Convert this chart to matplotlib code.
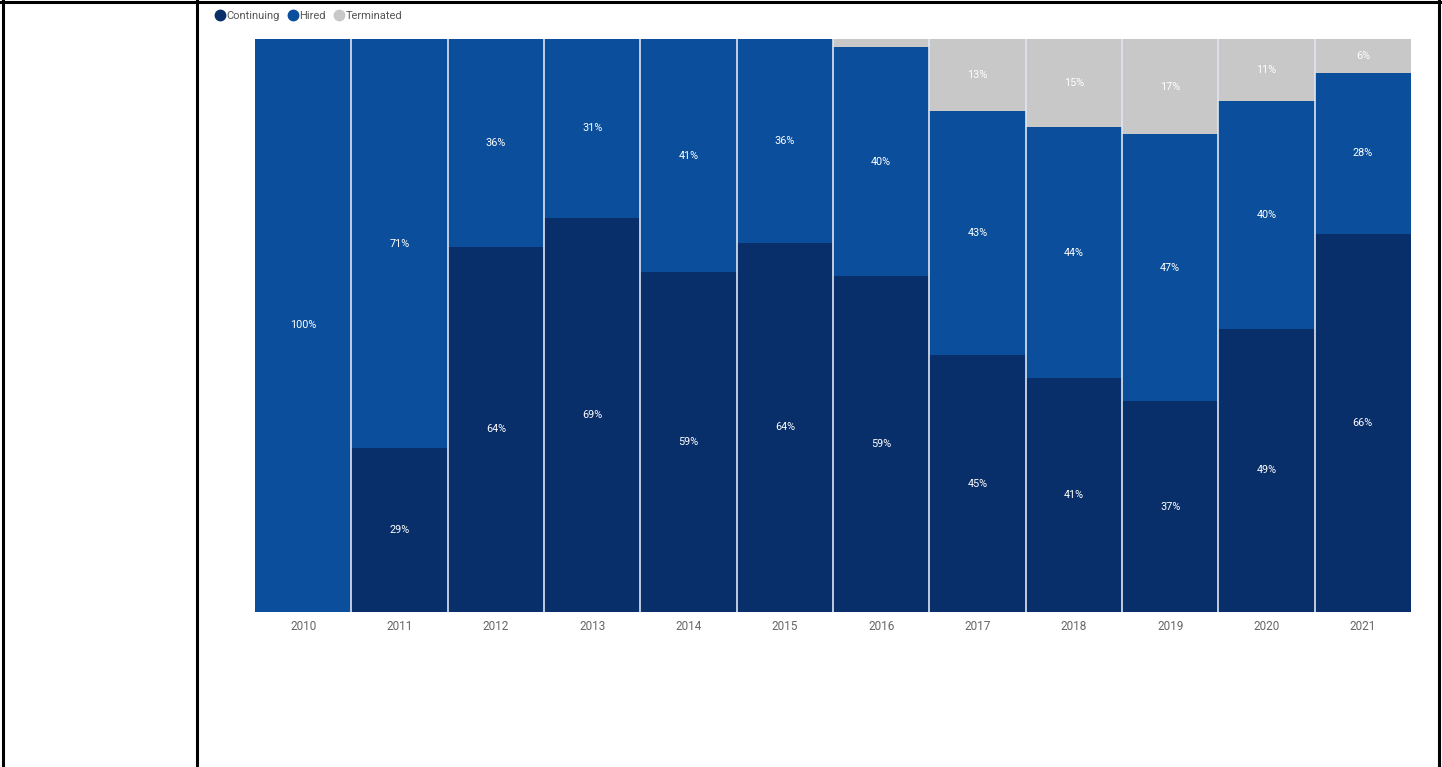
import matplotlib
matplotlib.use('Agg')
import matplotlib.pyplot as plt
from matplotlib.lines import Line2D
import numpy as np

plt.rcParams['font.family'] = ['Roboto', 'DejaVu Sans']

years = ['2010', '2011', '2012', '2013', '2014', '2015',
         '2016', '2017', '2018', '2019', '2020', '2021']
# share of staff per year, percent
continuing = [0.0, 28.6, 63.7, 68.8, 59.3, 64.4, 58.6, 44.8, 40.8, 36.8, 49.4, 66.0]
hired = [100.0, 71.4, 36.3, 31.2, 40.7, 35.6, 40.0, 42.6, 43.8, 46.6, 39.8, 28.1]
terminated = [0.0, 0.0, 0.0, 0.0, 0.0, 0.0, 1.4, 12.6, 15.4, 16.6, 10.8, 5.9]

names = ['Continuing', 'Hired', 'Terminated']
colors = ['#092f6a', '#0b4f9c', '#c8c8c8']

W, H = 1442, 767
fig = plt.figure(figsize=(W / 100, H / 100), dpi=100)
ax = fig.add_axes([255 / W, 1 - 612 / H, (1411 - 255) / W, (612 - 39) / H])

x = np.arange(len(years))
bottom = np.zeros(len(years))
for vals, col in zip([continuing, hired, terminated], colors):
    vals = np.array(vals)
    ax.bar(x, vals, width=1.0, bottom=bottom, color=col, linewidth=0)
    for xi, b, v in zip(x, bottom, vals):
        if v >= 3:
            ax.text(xi, b + v / 2, f'{v:.0f}%', ha='center', va='center',
                    color='white', fontsize=7.8)
    bottom += vals

# thin light separators between the columns
for xb in x[:-1] + 0.5:
    ax.axvline(xb, color='#dfe6f0', linewidth=1.2)

ax.set_xlim(-0.5, len(years) - 0.5)
ax.set_ylim(0, 100)
ax.set_xticks(x)
ax.set_xticklabels(years, fontsize=8.5, color='#666666')
ax.tick_params(axis='x', length=0, pad=5.5)
ax.set_yticks([])
for s in ax.spines.values():
    s.set_visible(False)

handles = [Line2D([], [], marker='o', linestyle='', markersize=7.5,
                  markerfacecolor=c, markeredgecolor=c) for c in colors]
fig.legend(handles, names, loc='upper left', bbox_to_anchor=(214 / W, 1 - 11 / H),
           ncol=3, frameon=False, fontsize=8, handletextpad=0.1,
           columnspacing=0.7, handlelength=1.0, borderpad=0, borderaxespad=0,
           labelcolor='#555555')

# page frame around the chart
frame = dict(color='black', linewidth=2.2, transform=None)
fig.add_artist(Line2D([0, W], [H - 2, H - 2], **frame))
fig.add_artist(Line2D([3, 3], [0, H], **frame))
fig.add_artist(Line2D([197, 197], [0, H], **frame))
fig.add_artist(Line2D([1439, 1439], [0, H], **frame))

fig.savefig('out.png', dpi=100)
